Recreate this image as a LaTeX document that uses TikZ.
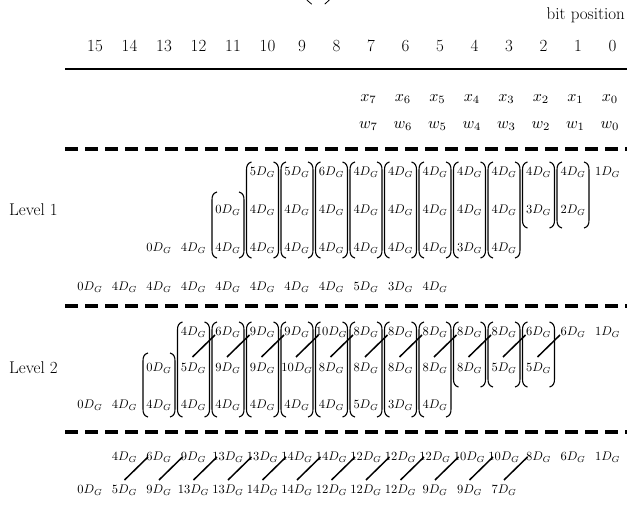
\documentclass[tikz,border=0pt]{standalone}
\usetikzlibrary{calc}
\newcommand\brpair[3]{%
  \draw[brk] ({#1-16+5},#2) .. controls ({#1-16+1},{#2+1}) and ({#1-16},{#2+4}) .. ({#1-16},{#2+8})
     -- ({#1-16},{#3-8}) .. controls ({#1-16},{#3-4}) and ({#1-16+1},{#3-1}) .. ({#1-16+5},#3);
  \draw[brk] ({#1+16-5},#2) .. controls ({#1+16-1},{#2+1}) and ({#1+16},{#2+4}) .. ({#1+16},{#2+8})
     -- ({#1+16},{#3-8}) .. controls ({#1+16},{#3-4}) and ({#1+16-1},{#3-1}) .. ({#1+16-5},#3);
}
\tikzset{
  ent/.style={inner sep=0pt, font=\normalsize, scale=1.25, text height=6.83pt, text depth=1.8pt},
  hdr/.style={inner sep=0pt, font=\fontsize{17}{20}\selectfont},
  xw/.style={inner sep=0pt, font=\normalsize, scale=1.6},
  brk/.style={line width=1.1pt},
  diag/.style={line width=1.5pt},
  sep/.style={line width=4pt, dash pattern=on 12.5pt off 7.5pt},
  rule/.style={line width=2.5pt},
}
\begin{document}
\begin{tikzpicture}[x=1pt,y=-1pt]
\useasboundingbox (0,0) rectangle (627,508);
% caption fragment
\draw[line width=0.8pt] (306.8,0) .. controls (308.5,2.5) .. (311.7,4.2);
\draw[line width=0.8pt] (329.3,0) .. controls (327.5,2.5) .. (324.7,4.2);
% header
\node[hdr, anchor=east] (bp) at (625,15) {bit position};
\foreach \c in {0,...,15} \node[hdr] (n\c) at ({612.5-34.5*\c},46) {\c};
\coordinate (r0) at (65,69); \coordinate (r1) at (627,69);
\draw[rule] (r0) -- (r1);
\foreach \c in {0,...,7} {
  \node[xw] (x\c) at ({610-34.5*\c},99) {$x_{\c}$};
  \node[xw] (w\c) at ({610-34.5*\c},126) {$w_{\c}$};
}
\coordinate (s0) at (65,149); \coordinate (s1) at (627,149);
\draw[sep] (s0) -- (s1);
% Level 1
\node[hdr, anchor=west] (L1) at (9,210) {Level 1};
\foreach \c/\v in {10/5,9/5,8/6,7/4,6/4,5/4,4/4,3/4,2/4,1/4,0/1}
  \node[ent] (a1-\c) at ({607.5-34.5*\c},172) {$\v D_G$};
\foreach \c/\v in {11/0,10/4,9/4,8/4,7/4,6/4,5/4,4/4,3/4,2/3,1/2}
  \node[ent] (a2-\c) at ({607.5-34.5*\c},210) {$\v D_G$};
\foreach \c/\v in {13/0,12/4,11/4,10/4,9/4,8/4,7/4,6/4,5/4,4/3,3/4}
  \node[ent] (a3-\c) at ({607.5-34.5*\c},248) {$\v D_G$};
\foreach \c/\v in {15/0,14/4,13/4,12/4,11/4,10/4,9/4,8/4,7/5,6/3,5/4}
  \node[ent] (a4-\c) at ({607.5-34.5*\c},287) {$\v D_G$};
\foreach \c in {3,...,10} {\pgfmathsetmacro\ex{607.5-34.5*\c}\brpair{\ex}{162}{258}}
\foreach \c in {11} {\pgfmathsetmacro\ex{607.5-34.5*\c}\brpair{\ex}{192}{258}}
\foreach \c in {1,2} {\pgfmathsetmacro\ex{607.5-34.5*\c}\brpair{\ex}{162}{228}}
\coordinate (s2) at (65,306); \coordinate (s3) at (627,306);
\draw[sep] (s2) -- (s3);
% Level 2
\node[hdr, anchor=west] (L2) at (9,368) {Level 2};
\foreach \c/\v in {12/4,11/6,10/9,9/9,8/10,7/8,6/8,5/8,4/8,3/8,2/6,1/6,0/1}
  \node[ent] (b1-\c) at ({607.5-34.5*\c},332) {$\v D_G$};
\foreach \c/\v in {13/0,12/5,11/9,10/9,9/10,8/8,7/8,6/8,5/8,4/8,3/5,2/5}
  \node[ent] (b2-\c) at ({607.5-34.5*\c},368) {$\v D_G$};
\foreach \c/\v in {15/0,14/4,13/4,12/4,11/4,10/4,9/4,8/4,7/5,6/3,5/4}
  \node[ent] (b3-\c) at ({607.5-34.5*\c},405) {$\v D_G$};
\foreach \c in {5,...,12} {\pgfmathsetmacro\ex{607.5-34.5*\c}\brpair{\ex}{322}{417}}
\foreach \c in {13} {\pgfmathsetmacro\ex{607.5-34.5*\c}\brpair{\ex}{353}{417}}
\foreach \c in {2,3,4} {\pgfmathsetmacro\ex{607.5-34.5*\c}\brpair{\ex}{322}{387}}
\foreach \c in {2,...,12} {\pgfmathtruncatemacro\d{\c-1}
  \draw[diag] ([xshift=-1pt,yshift=11pt]b2-\c.center) -- ([xshift=-13pt,yshift=-3pt]b1-\d.center);}
\coordinate (s4) at (65,432); \coordinate (s5) at (627,432);
\draw[sep] (s4) -- (s5);
% final
\foreach \c/\v in {14/4,13/6,12/9,11/13,10/13,9/14,8/14,7/12,6/12,5/12,4/10,3/10,2/8,1/6,0/1}
  \node[ent] (f1-\c) at ({607.5-34.5*\c},457) {$\v D_G$};
\foreach \c/\v in {15/0,14/5,13/9,12/13,11/13,10/14,9/14,8/12,7/12,6/12,5/9,4/9,3/7}
  \node[ent] (f2-\c) at ({607.5-34.5*\c},490) {$\v D_G$};
\foreach \c in {3,...,14} {\pgfmathtruncatemacro\d{\c-1}
  \draw[diag] ([yshift=10pt]f2-\c.center) -- ([xshift=-11pt]f1-\d.center);}
\end{tikzpicture}
\end{document}
